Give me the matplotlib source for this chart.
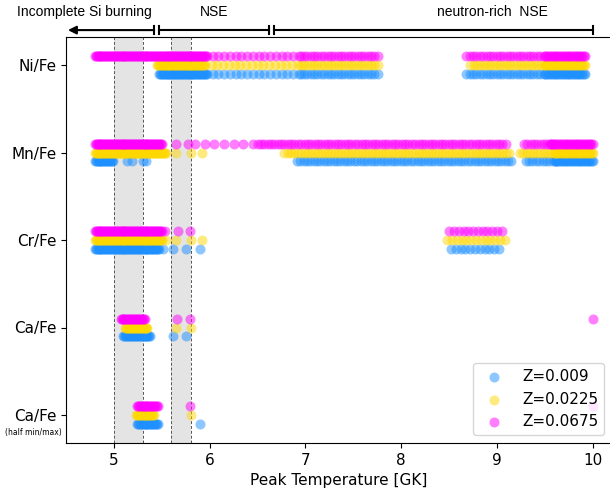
import numpy as np
import matplotlib
matplotlib.use('Agg')
import matplotlib.pyplot as plt

# rows on the y axis (bottom to top)
ratios = ['Ca/Fe', 'Ca/Fe', 'Cr/Fe', 'Mn/Fe', 'Ni/Fe']
metallicities = ['Z=0.009', 'Z=0.0225', 'Z=0.0675']
colors = ['#1E90FF', '#FFD700', '#FF00FF']
offsets = [-0.1, 0.0, 0.1]

# peak temperatures [GK] where each ratio matches
# runs are (start, stop, spacing); spacing 0 means a single point
cah_z1 = [(5.24, 5.46, 0.01), (5.9, 5.9, 0)]
ca_z1 = [(5.1, 5.38, 0.01), (5.62, 5.62, 0), (5.75, 5.75, 0)]
cr_z1 = [(4.8, 5.47, 0.01), (5.51, 5.51, 0), (5.62, 5.62, 0), (5.75, 5.75, 0),
         (5.9, 5.9, 0), (8.52, 9.03, 0.05)]
mn_z1 = [(4.8, 4.99, 0.01), (5.14, 5.14, 0), (5.19, 5.19, 0), (5.3, 5.3, 0),
         (5.34, 5.34, 0), (6.91, 9.14, 0.035), (9.3, 9.6, 0.035), (9.6, 10.0, 0.015)]
ni_z1 = [(5.47, 5.97, 0.01), (6.03, 6.9, 0.06), (6.95, 7.75, 0.035),
         (8.68, 9.5, 0.035), (9.5, 9.92, 0.015)]

cah_z2 = [(5.23, 5.42, 0.01), (5.81, 5.81, 0)]
ca_z2 = [(5.12, 5.35, 0.01), (5.65, 5.65, 0), (5.8, 5.8, 0)]
cr_z2 = [(4.8, 5.5, 0.01), (5.54, 5.54, 0), (5.65, 5.65, 0), (5.8, 5.8, 0),
         (5.92, 5.92, 0), (8.48, 9.08, 0.05)]
mn_z2 = [(4.8, 5.54, 0.01), (5.65, 5.65, 0), (5.81, 5.81, 0), (5.92, 5.92, 0),
         (6.78, 9.12, 0.035), (9.24, 9.6, 0.035), (9.6, 10.0, 0.015)]
ni_z2 = [(5.45, 5.95, 0.01), (6.02, 6.9, 0.06), (6.95, 7.75, 0.035),
         (8.72, 9.5, 0.035), (9.5, 9.92, 0.015)]

cah_z3 = [(5.24, 5.46, 0.01), (5.79, 5.79, 0), (10.0, 10.0, 0)]
ca_z3 = [(5.07, 5.32, 0.01), (5.66, 5.66, 0), (5.79, 5.79, 0), (10.0, 10.0, 0)]
cr_z3 = [(4.8, 5.5, 0.01), (5.53, 5.53, 0), (5.67, 5.67, 0), (5.79, 5.79, 0),
         (8.5, 9.05, 0.05)]
mn_z3 = [(4.8, 5.5, 0.01), (5.65, 5.65, 0), (5.77, 5.77, 0), (5.85, 6.45, 0.1),
         (6.5, 9.09, 0.035), (9.28, 9.55, 0.035), (9.55, 10.0, 0.015)]
ni_z3 = [(4.8, 5.97, 0.01), (6.03, 6.9, 0.06), (6.95, 7.75, 0.035),
         (8.68, 9.5, 0.035), (9.5, 9.92, 0.015)]

series = [
    [cah_z1, ca_z1, cr_z1, mn_z1, ni_z1],
    [cah_z2, ca_z2, cr_z2, mn_z2, ni_z2],
    [cah_z3, ca_z3, cr_z3, mn_z3, ni_z3],
]

# shaded temperature windows and regime arrows
bands = [(5.0, 5.3), (5.6, 5.8)]
regimes = ['Incomplete Si burning', 'NSE', 'neutron-rich  NSE']
regime_edges = [(4.5, 5.42), (5.47, 6.62), (6.67, 10.0)]


def expand(runs):
    out = []
    for a, b, step in runs:
        if step == 0:
            out.append(a)
        else:
            out.extend(np.arange(a, b + step / 2, step))
    return np.array(out)


fig = plt.figure(figsize=(6.1, 4.88), dpi=100)
ax = fig.add_axes([66 / 610, 45 / 488, 546 / 610, 406 / 488])

for lo, hi in bands:
    ax.axvspan(lo, hi, color='#e4e4e4', zorder=0, lw=0)
    for x in (lo, hi):
        ax.axvline(x, color='#555555', ls=(0, (3, 2)), lw=0.7, zorder=1)

for runs_z, c, off, lab in zip(series, colors, offsets, metallicities):
    xs, ys = [], []
    for row, runs in enumerate(runs_z):
        t = expand(runs)
        xs.append(t)
        ys.append(np.full(len(t), row + off))
    ax.scatter(np.concatenate(xs), np.concatenate(ys), s=52, color=c,
               alpha=0.5, linewidths=0, label=lab, zorder=3)

ax.set_xlim(4.5, 10.2)
ax.set_ylim(-0.32, 4.32)
ax.set_xticks([5, 6, 7, 8, 9, 10])
ax.set_yticks(range(len(ratios)))
ax.set_yticklabels(ratios)
ax.tick_params(labelsize=11)
ax.set_xlabel('Peak Temperature [GK]', fontsize=11)
fig.text(33 / 610, 1 - 432 / 488, '(half min/max)', fontsize=5.5,
         ha='center', va='center')

ax.legend(loc='lower right', fontsize=11, scatterpoints=1)

# regime arrows above the plot
tr = ax.get_xaxis_transform()
ya = 1.017
ax.annotate('', xy=(regime_edges[0][0] + 0.02, ya), xytext=(regime_edges[0][1], ya),
            xycoords=tr, textcoords=tr,
            arrowprops=dict(arrowstyle='-|>', color='black', lw=1.5,
                            mutation_scale=12, shrinkA=0, shrinkB=0))
for lo, hi in regime_edges[1:]:
    ax.plot([lo, hi], [ya, ya], color='black', lw=1.5, transform=tr, clip_on=False)
for lo, hi in regime_edges:
    for x in (lo, hi):
        if x == 4.5:
            continue
        ax.plot([x, x], [ya - 0.009, ya + 0.009], color='black', lw=1.5,
                transform=tr, clip_on=False)

ax.text(5.40, 1.062, regimes[0], transform=tr, ha='right', va='center',
        fontsize=10, family='Liberation Sans')
ax.text(6.05, 1.062, regimes[1], transform=tr, ha='center', va='center',
        fontsize=10, family='Liberation Sans')
ax.text(8.95, 1.062, regimes[2], transform=tr, ha='center', va='center',
        fontsize=10, family='Liberation Sans')

fig.savefig('out.png', dpi=100)
